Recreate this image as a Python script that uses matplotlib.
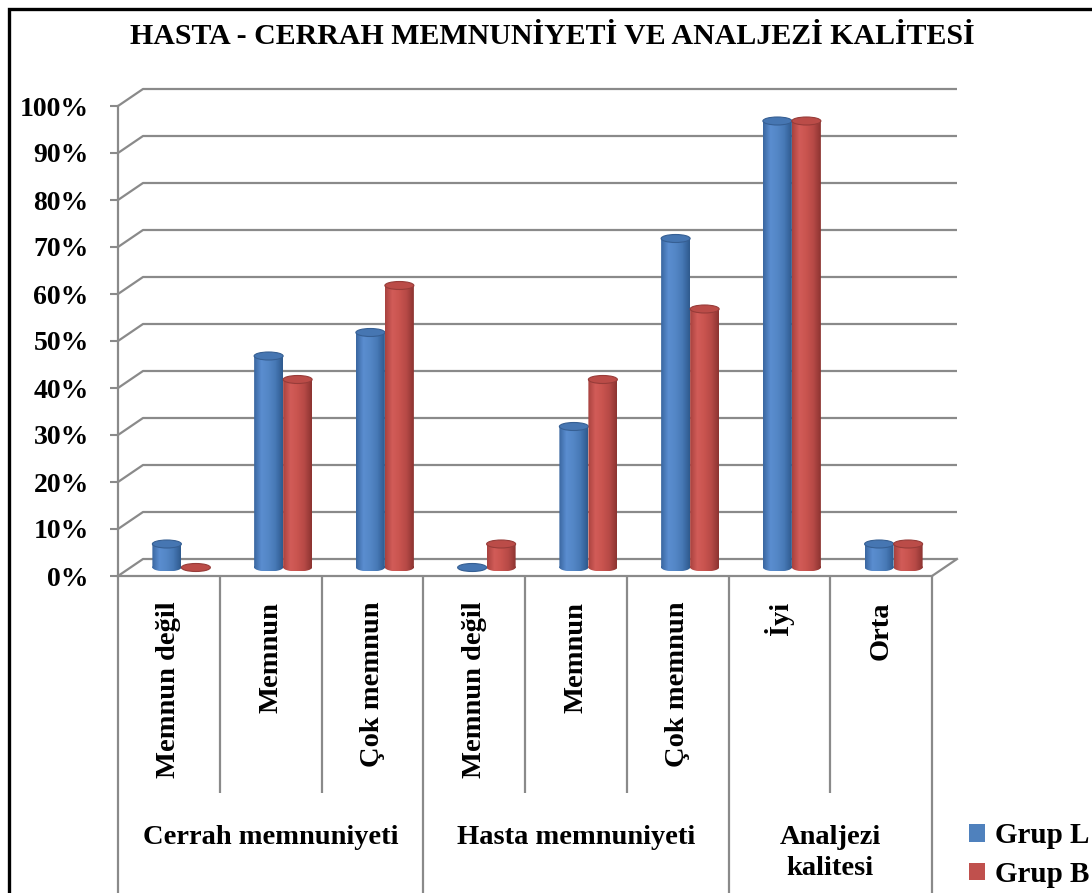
import numpy as np
import matplotlib
matplotlib.use('Agg')
import matplotlib.pyplot as plt
from matplotlib.patches import Ellipse, Rectangle, Patch, PathPatch
from matplotlib.path import Path
from matplotlib.colors import LinearSegmentedColormap

plt.rcParams['font.family'] = ['Liberation Serif', 'DejaVu Serif']
plt.rcParams['font.weight'] = 'bold'

title = 'HASTA - CERRAH MEMNUNİYETİ VE ANALJEZİ KALİTESİ'
categories = ['Memnun değil', 'Memnun', 'Çok memnun',
              'Memnun değil', 'Memnun', 'Çok memnun', 'İyi', 'Orta']
groups = ['Cerrah memnuniyeti', 'Hasta memnuniyeti', 'Analjezi\nkalitesi']
group_sizes = [3, 3, 2]
grup_l = [5, 45, 50, 0, 30, 70, 95, 5]
grup_b = [0, 40, 60, 5, 40, 55, 95, 5]
series_names = ['Grup L', 'Grup B']
yticks = np.arange(0, 101, 10)

W, H = 1092, 893
GRID = '#8a8a8a'
fig = plt.figure(figsize=(W / 100, H / 100), dpi=100)
fig.patch.set_facecolor('white')

# front plane of the 3d box
ax = fig.add_axes([118 / W, 1 - 576 / H, 814 / W, 470 / H])
ax.patch.set_visible(False)
n = len(categories)

# depth offset of the back wall, converted from pixels to data units
dx = 25 * n / 814
dy = 17 * 100 / 470

# back wall gridlines with the diagonal on the left side wall
for y in yticks:
    ax.plot([0, dx, n + dx], [y, y + dy, y + dy], color=GRID, lw=1.6,
            clip_on=False, zorder=1, solid_capstyle='butt')
# floor edge on the right
ax.plot([n, n + dx], [0, dy], color=GRID, lw=1.6, clip_on=False, zorder=1)

# cylinder shading
cmaps = [
    LinearSegmentedColormap.from_list('blue_cyl', ['#3a67a0', '#5a8dd0', '#5487c6', '#4678b5', '#2f5a8e']),
    LinearSegmentedColormap.from_list('red_cyl', ['#a8423f', '#d25c58', '#c9544f', '#b64946', '#8c3431']),
]
top_colors = ['#4676b2', '#bb4c48']
top_edges = ['#365f93', '#973c39']
grad = np.linspace(0, 1, 64).reshape(1, -1)

w = 0.285
eh = 8 * 100 / 470  # ellipse height in data units
base = dy / 2
for k, vals in enumerate([grup_l, grup_b]):
    x0s = np.arange(n) + 0.5 - w + k * w + dx / 2
    bars = ax.bar(x0s, vals, width=w, bottom=base, align='edge',
                  color='none', edgecolor='none')
    for bar, v in zip(bars, vals):
        x0 = bar.get_x()
        cx = x0 + w / 2
        top = base + v
        body = Rectangle((x0, base), w, v)
        bottom_cap = Ellipse((cx, base), w, eh)
        paths = [p.get_patch_transform().transform_path(p.get_path())
                 for p in (body, bottom_cap)]
        clip = PathPatch(Path.make_compound_path(*paths), transform=ax.transData)
        im = ax.imshow(grad, extent=[x0, x0 + w, base - eh / 2, top],
                       aspect='auto', cmap=cmaps[k], zorder=3 + k,
                       interpolation='bilinear')
        im.set_clip_path(clip)
        im.set_clip_on(True)
        ax.add_patch(Ellipse((cx, top), w, eh, facecolor=top_colors[k],
                             edgecolor=top_edges[k], lw=0.8, zorder=3.5 + k,
                             clip_on=False))

ax.set_xlim(0, n)
ax.set_ylim(0, 100)

# category dividers below the floor
bounds = np.concatenate([[0], np.cumsum(group_sizes)])
for b in range(n + 1):
    low = -0.7 if b in bounds else -0.4617
    ax.plot([b, b], [0, low], color=GRID, lw=1.6, clip_on=False,
            transform=ax.get_xaxis_transform(), solid_capstyle='butt')

for i, c in enumerate(categories):
    ax.text(i + 0.5, -0.055, c, rotation=90, ha='center', va='top',
            fontsize=20.5, transform=ax.get_xaxis_transform())

for g, name in enumerate(groups):
    cx = (bounds[g] + bounds[g + 1]) / 2
    ax.text(cx, -0.53, name, ha='center', va='top', fontsize=20.5,
            linespacing=1.3, transform=ax.get_xaxis_transform())

ax.set_xticks([])
ax.set_yticks(yticks)
ax.set_yticklabels([f'{v}%' for v in yticks])
ax.tick_params(axis='y', length=6, width=1.5, color=GRID, pad=15, labelsize=20)
for s in ['top', 'right']:
    ax.spines[s].set_visible(False)
for s in ['left', 'bottom']:
    ax.spines[s].set_color(GRID)
    ax.spines[s].set_linewidth(1.6)
    ax.spines[s].set_zorder(2)

fig.text(552 / W, 1 - 37 / H, title, ha='center', va='center', fontsize=21.5)

handles = [Patch(facecolor='#4f81bd'), Patch(facecolor='#c0504d')]
fig.legend(handles, series_names, loc='center left',
           bbox_to_anchor=(969 / W, 1 - 855 / H), frameon=False, fontsize=21,
           handlelength=0.55, handleheight=0.55, handletextpad=0.35,
           labelspacing=0.4, borderpad=0, borderaxespad=0)

# outer frame, cut off at the right and bottom
fig.add_artist(Rectangle((9 / W, -0.1), 1.2, 1 - 9 / H + 0.1, transform=fig.transFigure,
                         fill=False, edgecolor='black', lw=2.4))

fig.savefig('out.png', dpi=100)
